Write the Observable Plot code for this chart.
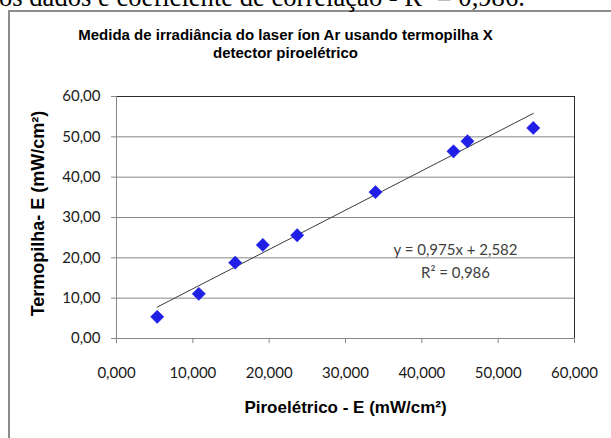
<!DOCTYPE html>
<html><head><meta charset="utf-8">
<script src="https://cdn.jsdelivr.net/npm/d3@7"></script>
<script src="https://cdn.jsdelivr.net/npm/@observablehq/plot@0.6"></script>
<style>
html,body{margin:0;padding:0;background:#fff;overflow:hidden;width:611px;height:438px;}
#wrap{position:relative;width:611px;height:438px;overflow:hidden;}
#lead{position:absolute;left:0;top:0;}
#box{position:absolute;left:8px;top:10px;width:700px;height:600px;border:2px solid #8c8c8c;box-sizing:border-box;}
#chart{position:absolute;left:0;top:0;}
</style></head>
<body>
<div id="wrap">
  <div id="box"></div>
  <svg id="lead" width="611" height="20"><text x="-1" y="6" font-family="Liberation Serif, Times New Roman, serif" font-size="26.6" fill="#000">os dados e coeficiente de correlação - R² = 0,986.</text></svg>
  <div id="chart"></div>
</div>
<script>
// Data
const pyro  = [5.33, 10.78, 15.55, 19.17, 23.67, 33.93, 44.15, 45.98, 54.6];   // Piroelétrico - E (mW/cm²)
const termo = [5.37, 11.07, 18.8, 23.2, 25.6, 36.3, 46.4, 48.9, 52.2];        // Termopilha- E (mW/cm²)
const trendX = [5.33, 54.6];
const trendY = [7.78, 55.8];
const xTicks = [0, 10, 20, 30, 40, 50, 60];
const yTicks = [0, 10, 20, 30, 40, 50, 60];
const titleLines = ["Medida de irradiância do laser íon Ar usando termopilha X", "detector piroelétrico"];
const xTitle = ["Piroelétrico - E (mW/cm²)"];
const yTitle = ["Termopilha- E (mW/cm²)"];
const eqLines = ["y = 0,975x + 2,582", "R² = 0,986"];

const points = pyro.map((x, i) => ({x, y: termo[i]}));
const trend = trendX.map((x, i) => ({x, y: trendY[i]}));
const sans = "Liberation Sans, Arial, sans-serif";

const chart = Plot.plot({
  width: 611, height: 438,
  marginLeft: 116, marginRight: 37, marginTop: 96, marginBottom: 100,
  style: {background: "transparent", fontFamily: "Lato, sans-serif", fontSize: "15px", color: "#000"},
  x: {domain: [0, 60]},
  y: {domain: [0, 60]},
  marks: [
    Plot.gridY(yTicks.filter(d => d > 0 && d < 60), {stroke: "#878787", strokeOpacity: 1}),
    Plot.frame({stroke: "#2b2b2b"}),
    Plot.ruleX([0], {stroke: "#878787"}),
    Plot.ruleY([0], {stroke: "#878787"}),
    Plot.axisY({ticks: yTicks, tickSize: 5, tickPadding: 11, stroke: "#878787", fill: "#1a1a1a", fontSize: 15,
      tickFormat: d => d.toFixed(2).replace(".", ","), label: null}),
    Plot.axisX({ticks: xTicks, tickSize: 5, tickPadding: 24, stroke: "#878787", fill: "#1a1a1a", fontSize: 15,
      tickFormat: d => d.toFixed(3).replace(".", ","), label: null}),
    Plot.line(trend, {x: "x", y: "y", stroke: "#3a3a3a", strokeWidth: 1}),
    Plot.dot(points, {x: "x", y: "y", symbol: "diamond2", r: 6, fill: "#1f1fe6", stroke: "#1f1fe6", strokeWidth: 0.5}),
    Plot.text(titleLines.slice(0, 1), {ariaLabel: "title1", text: d => d, frameAnchor: "top", lineAnchor: "middle", textAnchor: "middle", dx: -60, dy: -61, fontWeight: "bold", fontSize: 15, fontFamily: sans, fill: "#000"}),
    Plot.text(titleLines.slice(1, 2), {ariaLabel: "title2", text: d => d, frameAnchor: "top", lineAnchor: "middle", textAnchor: "middle", dx: -60, dy: -43, fontWeight: "bold", fontSize: 15, fontFamily: sans, fill: "#000"}),
    Plot.text(xTitle, {ariaLabel: "xtitle", text: d => d, frameAnchor: "bottom", lineAnchor: "middle", textAnchor: "middle", dy: 69, fontWeight: "bold", fontSize: 17, fontFamily: sans, fill: "#000"}),
    Plot.text(yTitle, {ariaLabel: "ytitle", text: d => d, frameAnchor: "left", lineAnchor: "middle", textAnchor: "middle", dx: -78, dy: -4, rotate: -90, fontWeight: "bold", fontSize: 18, fontFamily: sans, fill: "#000"}),
    Plot.text(eqLines.slice(0, 1), {text: d => d, frameAnchor: "top-left", lineAnchor: "middle", textAnchor: "middle", dx: 339, dy: 154, fontSize: 15, fontFamily: "Lato, sans-serif", fill: "#404040"}),
    Plot.text(eqLines.slice(1, 2), {text: d => d, frameAnchor: "top-left", lineAnchor: "middle", textAnchor: "middle", dx: 339, dy: 177, fontSize: 15, fontFamily: "Lato, sans-serif", fill: "#404040"})
  ]
});
document.getElementById("chart").appendChild(chart);
// condensed look of the Excel title fonts
const fit = {title1: 344, title2: 133, ytitle: 227, xtitle: 203};
for (const [k, len] of Object.entries(fit)) {
  d3.select(chart).selectAll(`g[aria-label="${k}"] text`)
    .attr("textLength", len).attr("lengthAdjust", "spacingAndGlyphs");
}
</script>
</body></html>
